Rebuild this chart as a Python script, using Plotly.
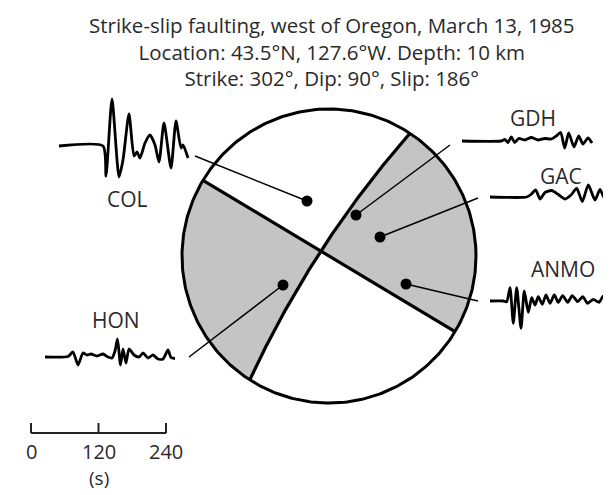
import numpy as np
import plotly.graph_objects as go

W, H = 611, 495

# ---------------- text ----------------
title_lines = [
    "Strike-slip faulting, west of Oregon, March 13, 1985",
    "Location: 43.5°N, 127.6°W. Depth: 10 km",
    "Strike: 302°, Dip: 90°, Slip: 186°",
]
station_names = ["COL", "GDH", "GAC", "ANMO", "HON"]

# ---------------- data ----------------
# first-motion polarity points on the focal sphere (drawing units)
dot_x = [299, 348, 372, 398, 275]
dot_y = [193, 207, 229, 276, 277]

# seismograms: time (drawing units) and amplitude (drawing units, up positive)
col_t = [0, 44, 47, 53, 60, 64, 70, 75, 78, 81, 86, 91, 96, 100, 105, 112, 117, 122, 124, 129]
col_a = [0, 0, -30, 47, -31, -14, 32, -10, -6, -12, 3, 11, 1, -16, 23, -22, 25, -2, 1, -12]

gdh_t = [0, 39, 43, 46, 49.3, 52.7, 56.7, 62.7, 69.3, 76, 82.7, 89.3, 94.3, 98.7, 102.7, 106.7, 112, 116.7, 121, 126, 130]
gdh_a = [0, 0, 1.5, -1.5, 4, -1.5, 2.5, 1, 3.5, 1, 2.5, 2, 5, 8.5, -7, 8, -6, 5, -3, 3, -2]

gac_t = [0, 36.7, 41, 45.7, 50, 55, 61.7, 68.3, 75, 81, 86.7, 92.3, 98.3, 105, 110, 115, 120, 125, 129.3]
gac_a = [0, 0, 2.5, 7, -2, 4.5, 6.5, 2.5, -2, 2, 8.5, -4.5, 12, -3, 7.5, -2, 5, -0.5, 4]

anmo_t = [0, 13.3, 16.7, 20, 23.3, 26.7, 31, 34.3, 38.3, 41.7, 45, 48.3, 52.3, 56, 60, 64.3, 68.3,
          72.7, 77.7, 82.3, 87.7, 92.7, 97.7, 103.3, 109, 113.3, 118.3, 124.3, 129.3]
anmo_a = [0, 0, -0.7, 13.3, -22.3, 13.3, -27.3, 10, -11.3, 3.3, -4, 4.3, -3.3, 6, -2.3, 6, -1.3,
          5.3, -1.3, 5.3, -0.7, 4.3, -2.3, 1.7, -1.3, 5, -1.3, 3.3, 0]

hon_t = [0, 23, 28, 33, 38, 42, 46, 52, 58, 63, 67, 70, 72.5, 75.5, 78, 81, 84, 89, 94, 98,
         103, 108, 113, 118, 123, 126, 130]
hon_a = [0, 0.5, 5, -8, 4, 2, 3, 1, 3, 0, -1, 6, 18, -8, 8, -6, 8, 2, 0, 4, -1, 2, -2, -2, 7, -0.5, -1.5]

scale_ticks = [0, 120, 240]   # seconds

# ---------------- layout geometry ----------------
CX, CY, R = 321.0, 248.0, 147.0
ang_line1 = np.deg2rad(31.0)        # straight nodal plane (diameter)
ang_A = np.deg2rad(-56.6)           # curved nodal plane, top end
ang_D = np.deg2rad(122.6)           # curved nodal plane, bottom end
p_off = -9.5                        # intersection offset along straight plane

trace_origin = {  # baseline start of each seismogram
    "COL": (51, 138), "GDH": (454, 133), "GAC": (482, 189),
    "ANMO": (482, 293), "HON": (37, 349),
}
leader_end = {
    "COL": (187, 148), "GDH": (442, 137), "GAC": (470, 190),
    "ANMO": (470, 293), "HON": (181, 349),
}
label_pos = {
    "COL": (119, 191), "GDH": (525, 110), "GAC": (553, 168),
    "ANMO": (555, 261), "HON": (108, 312),
}
series = {
    "COL": (col_t, col_a), "GDH": (gdh_t, gdh_a), "GAC": (gac_t, gac_a),
    "ANMO": (anmo_t, anmo_a), "HON": (hon_t, hon_a),
}

def on_circle(a):
    return CX + R * np.cos(a), CY + R * np.sin(a)

A = np.array(on_circle(ang_A))
D = np.array(on_circle(ang_D))
Bp = np.array(on_circle(ang_line1))
Cp = np.array(on_circle(ang_line1 + np.pi))
P = np.array([CX + p_off * np.cos(ang_line1), CY + p_off * np.sin(ang_line1)])

def circumcircle(p1, p2, p3):
    ax, ay = p1; bx, by = p2; cx, cy = p3
    d = 2 * (ax * (by - cy) + bx * (cy - ay) + cx * (ay - by))
    ux = ((ax**2 + ay**2) * (by - cy) + (bx**2 + by**2) * (cy - ay) + (cx**2 + cy**2) * (ay - by)) / d
    uy = ((ax**2 + ay**2) * (cx - bx) + (bx**2 + by**2) * (ax - cx) + (cx**2 + cy**2) * (bx - ax)) / d
    return np.array([ux, uy]), np.hypot(ax - ux, ay - uy)

def arc_between(cen, rad, p, q, n=80):
    a1 = np.arctan2(p[1] - cen[1], p[0] - cen[0])
    a2 = np.arctan2(q[1] - cen[1], q[0] - cen[0])
    da = (a2 - a1 + np.pi) % (2 * np.pi) - np.pi
    t = np.linspace(a1, a1 + da, n)
    return cen[0] + rad * np.cos(t), cen[1] + rad * np.sin(t)

cc, cr = circumcircle(A, P, D)
upper_x, upper_y = arc_between(cc, cr, P, A)      # P -> A
lower_x, lower_y = arc_between(cc, cr, P, D)      # P -> D

fig = go.Figure()
GRAY = "rgb(196,196,196)"

# right compressional quadrant: P -> A (curve), A -> B (circle), B -> P
t = np.linspace(ang_A, ang_line1, 80)
rx = np.concatenate([upper_x, CX + R * np.cos(t), [P[0]]])
ry = np.concatenate([upper_y, CY + R * np.sin(t), [P[1]]])
fig.add_trace(go.Scatter(x=rx, y=ry, fill="toself", fillcolor=GRAY, mode="none", hoverinfo="skip"))

# left compressional quadrant: P -> C (line), C -> D (circle), D -> P (curve)
t = np.linspace(ang_line1 + np.pi, ang_D, 80)
lx = np.concatenate([[P[0]], CX + R * np.cos(t), lower_x[::-1]])
ly = np.concatenate([[P[1]], CY + R * np.sin(t), lower_y[::-1]])
fig.add_trace(go.Scatter(x=lx, y=ly, fill="toself", fillcolor=GRAY, mode="none", hoverinfo="skip"))

# outline
t = np.linspace(0, 2 * np.pi, 361)
fig.add_trace(go.Scatter(x=CX + R * np.cos(t), y=CY + R * np.sin(t), mode="lines",
                         line=dict(color="black", width=3), hoverinfo="skip"))
# nodal planes
fig.add_trace(go.Scatter(x=[Cp[0], Bp[0]], y=[Cp[1], Bp[1]], mode="lines",
                         line=dict(color="black", width=3.2), hoverinfo="skip"))
fig.add_trace(go.Scatter(x=np.concatenate([upper_x[::-1], lower_x]),
                         y=np.concatenate([upper_y[::-1], lower_y]), mode="lines",
                         line=dict(color="black", width=3.2), hoverinfo="skip"))

# leader lines and dots
for i, name in enumerate(station_names):
    ex, ey = leader_end[name]
    fig.add_trace(go.Scatter(x=[dot_x[i], ex], y=[dot_y[i], ey], mode="lines",
                             line=dict(color="black", width=1.5), hoverinfo="skip"))
fig.add_trace(go.Scatter(x=dot_x, y=dot_y, mode="markers",
                         marker=dict(color="black", size=11), hoverinfo="skip"))

# seismograms
for name in station_names:
    ox, oy = trace_origin[name]
    tt, aa = series[name]
    fig.add_trace(go.Scatter(x=[ox + v for v in tt], y=[oy - v for v in aa], mode="lines",
                             line=dict(color="black", width=2.8, shape="spline", smoothing=0.6),
                             hoverinfo="skip"))

# time scale bar
SB_X0, SB_Y, SB_LEN = 23, 425, 135
px_per_s = SB_LEN / (scale_ticks[-1] - scale_ticks[0])
fig.add_trace(go.Scatter(x=[SB_X0, SB_X0 + SB_LEN], y=[SB_Y, SB_Y], mode="lines",
                         line=dict(color="#222", width=2), hoverinfo="skip"))
for s in scale_ticks:
    xx = SB_X0 + s * px_per_s
    fig.add_trace(go.Scatter(x=[xx, xx], y=[SB_Y - 10, SB_Y], mode="lines",
                             line=dict(color="#222", width=2), hoverinfo="skip"))

FONT = "Open Sans"
TXT = "#2a2a2a"
annotations = [dict(x=324, y=43.5, text="<br>".join(title_lines), showarrow=False,
                    xanchor="center", yanchor="middle", align="center",
                    font=dict(family=FONT, size=20.5, color=TXT))]
for name in station_names:
    lx_, ly_ = label_pos[name]
    annotations.append(dict(x=lx_, y=ly_, text=name, showarrow=False,
                            xanchor="center", yanchor="middle",
                            font=dict(family=FONT, size=21, color=TXT)))
for s in scale_ticks:
    annotations.append(dict(x=SB_X0 + s * px_per_s, y=443, text=str(s), showarrow=False,
                            xanchor="center", yanchor="middle",
                            font=dict(family=FONT, size=20, color=TXT)))
annotations.append(dict(x=SB_X0 + 120 * px_per_s, y=470, text="(s)", showarrow=False,
                        xanchor="center", yanchor="middle",
                        font=dict(family=FONT, size=19, color=TXT)))

fig.update_layout(
    width=W, height=H, margin=dict(l=0, r=0, t=0, b=0),
    paper_bgcolor="white", plot_bgcolor="white", showlegend=False,
    xaxis=dict(range=[0, W], visible=False, fixedrange=True),
    yaxis=dict(range=[H, 0], visible=False, fixedrange=True),
    annotations=annotations,
)
fig.write_html("out.html")
